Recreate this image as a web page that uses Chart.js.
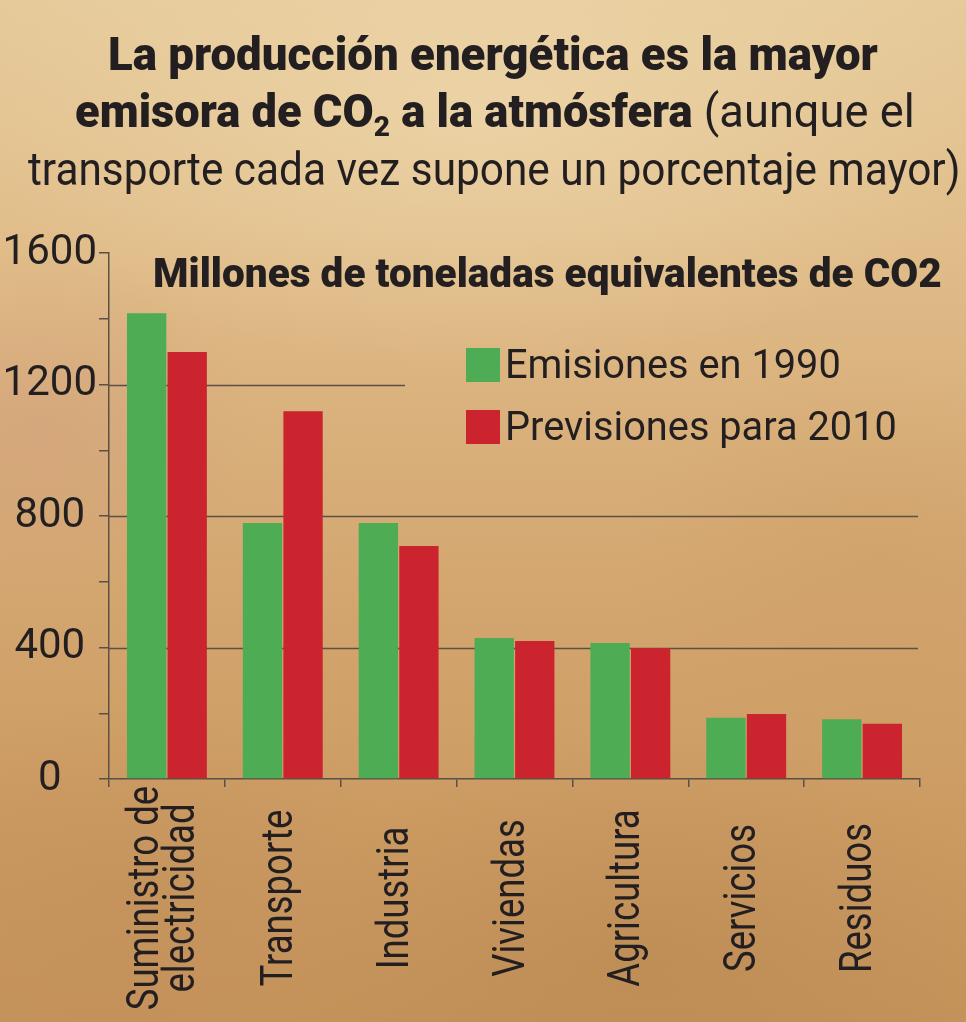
<!DOCTYPE html>
<html>
<head>
<meta charset="utf-8">
<script src="https://cdn.jsdelivr.net/npm/chart.js@4.4.1/dist/chart.umd.min.js"></script>
<style>
  html, body { margin: 0; padding: 0; }
  body {
    width: 966px; height: 1022px; overflow: hidden; position: relative;
    font-family: Roboto, sans-serif; color: #231f20;
    background:
      radial-gradient(ellipse 520px 260px at 480px 110px, rgba(242,222,180,0.55), rgba(242,222,180,0)),
      radial-gradient(ellipse 220px 180px at 40px 430px, rgba(205,150,125,0.35), rgba(205,150,125,0)),
      radial-gradient(ellipse 260px 200px at 880px 560px, rgba(200,150,95,0.30), rgba(200,150,95,0)),
      radial-gradient(ellipse 380px 220px at 650px 960px, rgba(175,125,75,0.30), rgba(175,125,75,0)),
      radial-gradient(ellipse 300px 200px at 120px 900px, rgba(190,135,85,0.30), rgba(190,135,85,0)),
      linear-gradient(180deg, #e6ca9a 0%, #e1be8b 22%, #d9b07b 42%, #d3a56e 60%, #cb9b62 80%, #c4935a 100%);
  }
  canvas { position: absolute; left: 0; top: 0; }
  .line { position: absolute; white-space: nowrap; line-height: 1; transform-origin: 0 0; }
  .b { font-weight: 900; }
  .r { font-weight: 400; }
  sub { font-size: 0.62em; vertical-align: baseline; position: relative; top: 0.32em; }
</style>
</head>
<body>
<canvas id="chart" width="966" height="1022"></canvas>
<div class="line" id="t1" style="font-size:46px" data-w="770" data-cx="493" data-top="31"><span class="b">La producción energética es la mayor</span></div>
<div class="line" id="t2" style="font-size:46px" data-w="840" data-cx="495" data-top="88"><span class="b">emisora de CO<sub>2</sub> a la atmósfera</span><span class="r"> (aunque el</span></div>
<div class="line" id="t3" style="font-size:46px" data-w="932" data-cx="494" data-top="146"><span class="r">transporte cada vez supone un porcentaje mayor)</span></div>
<div class="line" id="sub" style="font-size:41px" data-w="789" data-left="153" data-top="253"><span class="b">Millones de toneladas equivalentes de CO2</span></div>
<script>
const categories = [["Suministro de", "electricidad"], "Transporte", "Industria", "Viviendas", "Agricultura", "Servicios", "Residuos"];
const seriesNames = ["Emisiones en 1990", "Previsiones para 2010"];
const emisiones1990 = [1417, 779, 779, 429, 414, 186, 182];
const previsiones2010 = [1299, 1119, 709, 420, 398, 198, 168];
const yMax = 1600;
const yStep = 200;
const yLabelStep = 400;

const green = "#4eac54";
const red = "#cc242e";
const ink = "#231f20";
const axisColor = "#5a5046";

// fit the title lines to the width they take in the picture
function fitLines() {
  document.querySelectorAll(".line").forEach((el) => {
    el.style.transform = "none";
    let w = el.offsetWidth;
    let target = parseFloat(el.dataset.w);
    el.style.transform = `scaleX(${target / w})`;
    el.style.top = el.dataset.top + "px";
    if (el.dataset.cx) {
      el.style.left = (parseFloat(el.dataset.cx) - target / 2) + "px";
    } else {
      el.style.left = el.dataset.left + "px";
    }
  });
}
fitLines();
if (document.fonts) document.fonts.ready.then(fitLines);

// gridlines, some of them stop short of the right edge
const partialGrid = {
  id: "partialGrid",
  beforeDatasetsDraw(chart, args, opts) {
    const ctx = chart.ctx;
    const y = chart.scales.y;
    ctx.save();
    ctx.strokeStyle = axisColor;
    ctx.lineWidth = 1.5;
    opts.lines.forEach((l) => {
      let py = Math.round(y.getPixelForValue(l.value)) + 0.5;
      ctx.beginPath();
      ctx.moveTo(chart.chartArea.left, py);
      ctx.lineTo(l.to, py);
      ctx.stroke();
    });
    ctx.restore();
  },
};

// category names, vertical and centred, a bit condensed
const xLabels = {
  id: "xLabels",
  afterDraw(chart, args, opts) {
    const ctx = chart.ctx;
    const x = chart.scales.x;
    ctx.save();
    ctx.font = `400 ${opts.size}px Roboto`;
    ctx.fillStyle = ink;
    ctx.textAlign = "center";
    ctx.textBaseline = "alphabetic";
    chart.data.labels.forEach((lab, i) => {
      const lines = Array.isArray(lab) ? lab : [lab];
      const cx = x.getPixelForValue(i);
      lines.forEach((t, j) => {
        const bx = cx + opts.shift + (j - (lines.length - 1) / 2) * opts.lineGap;
        ctx.save();
        ctx.translate(bx, opts.centerY);
        ctx.rotate(-Math.PI / 2);
        ctx.scale(opts.squeeze, 1);
        ctx.fillText(t, 0, 0);
        ctx.restore();
      });
    });
    ctx.restore();
  },
};

const boxLegend = {
  id: "boxLegend",
  afterDraw(chart, args, opts) {
    const ctx = chart.ctx;
    ctx.save();
    ctx.font = "400 41px Roboto";
    ctx.textBaseline = "alphabetic";
    chart.data.datasets.forEach((ds, i) => {
      let top = opts.top + i * opts.gap;
      ctx.fillStyle = ds.backgroundColor;
      ctx.fillRect(opts.left, top, opts.box, opts.box);
      ctx.fillStyle = ink;
      ctx.save();
      ctx.translate(opts.left + opts.box + 5, top + opts.box - 4);
      ctx.scale(0.97, 1);
      ctx.fillText(ds.label, 0, 0);
      ctx.restore();
    });
    ctx.restore();
  },
};

const ctx = document.getElementById("chart").getContext("2d");
const chart = new Chart(ctx, {
  type: "bar",
  data: {
    labels: categories,
    datasets: [
      { label: seriesNames[0], data: emisiones1990, backgroundColor: green, borderWidth: 0 },
      { label: seriesNames[1], data: previsiones2010, backgroundColor: red, borderWidth: 0 },
    ],
  },
  options: {
    responsive: false,
    animation: false,
    layout: { padding: { top: 253, right: 46, left: 0, bottom: 0 } },
    datasets: { bar: { categoryPercentage: 0.7, barPercentage: 0.97 } },
    plugins: {
      legend: { display: false },
      tooltip: { enabled: false },
      partialGrid: {
        lines: [
          { value: 1200, to: 405 },
          { value: 800, to: 918 },
          { value: 400, to: 918 },
        ],
      },
      xLabels: { size: 44, squeeze: 0.83, centerY: 898, shift: 9, lineGap: 36 },
      boxLegend: { left: 466, top: 348, box: 34, gap: 62 },
    },
    scales: {
      x: {
        afterFit: (scale) => { scale.height = 243; },
        grid: { offset: true, drawOnChartArea: false, tickLength: 8, color: axisColor, lineWidth: 1.5 },
        border: { color: axisColor, width: 1.5 },
        ticks: { display: false },
      },
      y: {
        min: 0,
        max: yMax,
        afterFit: (scale) => { scale.width = 109; },
        grid: { drawOnChartArea: false, tickLength: 10, color: axisColor, lineWidth: 1.5 },
        border: { color: axisColor, width: 1.5 },
        ticks: {
          stepSize: yStep,
          padding: 2,
          crossAlign: "center",
          color: ink,
          font: { family: "Roboto", size: 42 },
          callback: (v) => (v % yLabelStep === 0 ? v : ""),
        },
      },
    },
  },
  plugins: [partialGrid, xLabels, boxLegend],
});
</script>
</body>
</html>
